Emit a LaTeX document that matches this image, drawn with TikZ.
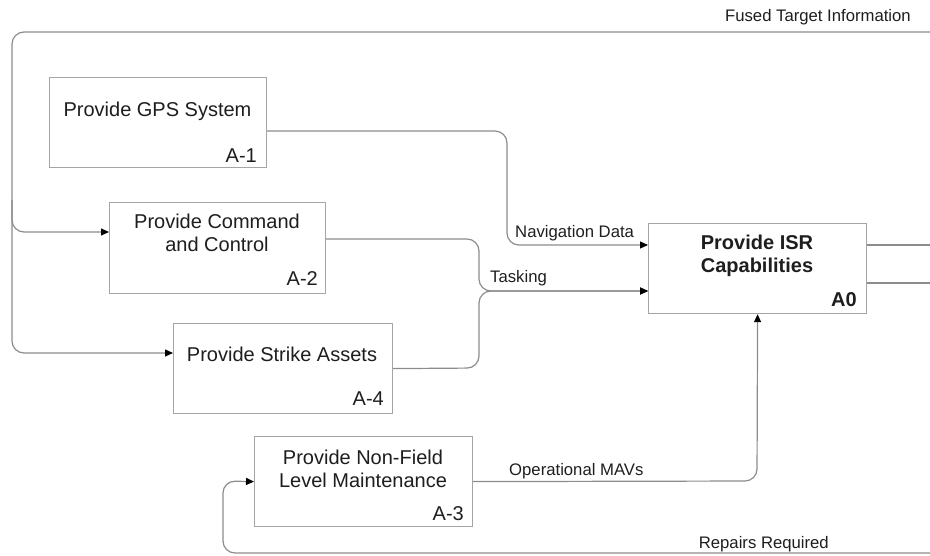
\documentclass[tikz,border=0pt]{standalone}
\usepackage{fontspec}
\setmainfont{Liberation Sans}
\usetikzlibrary{arrows.meta,calc}
\definecolor{linegray}{RGB}{140,140,140}
\definecolor{boxgray}{RGB}{165,165,165}
\definecolor{txt}{RGB}{30,30,30}
\begin{document}
\begin{tikzpicture}[x=1pt,y=-1pt,
 box/.style={draw=boxgray, line width=1.2pt, fill=white, inner sep=0pt, anchor=north west},
 boxtext/.style={font=\fontsize{20}{23}\selectfont, text=txt, inner sep=0pt, align=center, anchor=base},
 idtext/.style={font=\fontsize{20}{23}\selectfont, text=txt, inner sep=0pt, anchor=base east},
 lbl/.style={font=\fontsize{16.7}{19}\selectfont, text=txt, inner sep=0pt},
 conn/.style={draw=linegray, line width=1.2pt, rounded corners=12pt},
 arr/.style={conn, -{Triangle[length=8pt,width=7pt,color=black]}},
]
\useasboundingbox (0,0) rectangle (930,556);

% boxes
\node[box, minimum width=217pt, minimum height=90pt] (gps) at (49,77) {};
\node[box, minimum width=216pt, minimum height=91pt] (c2) at (109,202) {};
\node[box, minimum width=219pt, minimum height=90pt] (strike) at (173,323) {};
\node[box, minimum width=218pt, minimum height=90pt] (a3) at (254,436) {};
\node[box, minimum width=218pt, minimum height=90pt] (isr) at (648,223) {};

% box texts (multi-line: anchor base = baseline of last line)
\node[boxtext] (gpst) at (157.5,117) {Provide GPS System};
\node[idtext] (gpsid) at (257,163) {A-1};
\node[boxtext] (c2t) at (217,252) {Provide Command\\and Control};
\node[idtext] (c2id) at (318,286) {A-2};
\node[boxtext] (striket) at (282,362) {Provide Strike Assets};
\node[idtext] (strikeid) at (384,406) {A-4};
\node[boxtext] (a3t) at (363,487) {Provide Non-Field\\Level Maintenance};
\node[idtext] (a3id) at (464,520) {A-3};
\node[boxtext, font=\fontsize{20}{23}\selectfont\bfseries] (isrt) at (757,273) {Provide ISR\\Capabilities};
\node[idtext, font=\fontsize{20}{23}\selectfont\bfseries] (isrid) at (857,307) {A0};

% free ends
\coordinate (ftin) at (930,32);
\coordinate (rrin) at (930,553);
\coordinate (o1) at (930,245);
\coordinate (o2) at (930,283);

% connectors
\draw[arr] (ftin) -- (12,32) -- (12,353) -- ($(strike.north west)+(0,30)$);
\draw[arr] (12,200) -- (12,232) -- ($(c2.north west)+(0,30)$);
\draw[arr] ($(gps.north east)+(0,54)$) -- (507,131) -- (507,245) -- ($(isr.north west)+(0,22)$);
\draw[arr] ($(c2.north east)+(0,37)$) -- (479,239) -- (479,291) -- ($(isr.north west)+(0,68)$);
\draw[arr] (strike.east) -- (479,368) -- (479,291) -- ($(isr.north west)+(0,68)$);
\draw[arr] (a3.east) -- (757,481) -- (isr.south);
\draw[arr] (rrin) -- (223,553) -- (223,481) -- (a3.west);
\draw[conn] ($(isr.north east)+(0,22)$) -- (o1);
\draw[conn] ($(isr.north east)+(0,60)$) -- (o2);

% labels
\node[lbl, anchor=base east] (ftl) at (911,22) {Fused Target Information};
\node[lbl, anchor=base west] (navl) at (515,238) {Navigation Data};
\node[lbl, anchor=base west] (taskl) at (490,283) {Tasking};
\node[lbl, anchor=base west] (opl) at (509,475) {Operational MAVs};
\node[lbl, anchor=base east] (repl) at (829,548) {Repairs Required};
\end{tikzpicture}
\end{document}
